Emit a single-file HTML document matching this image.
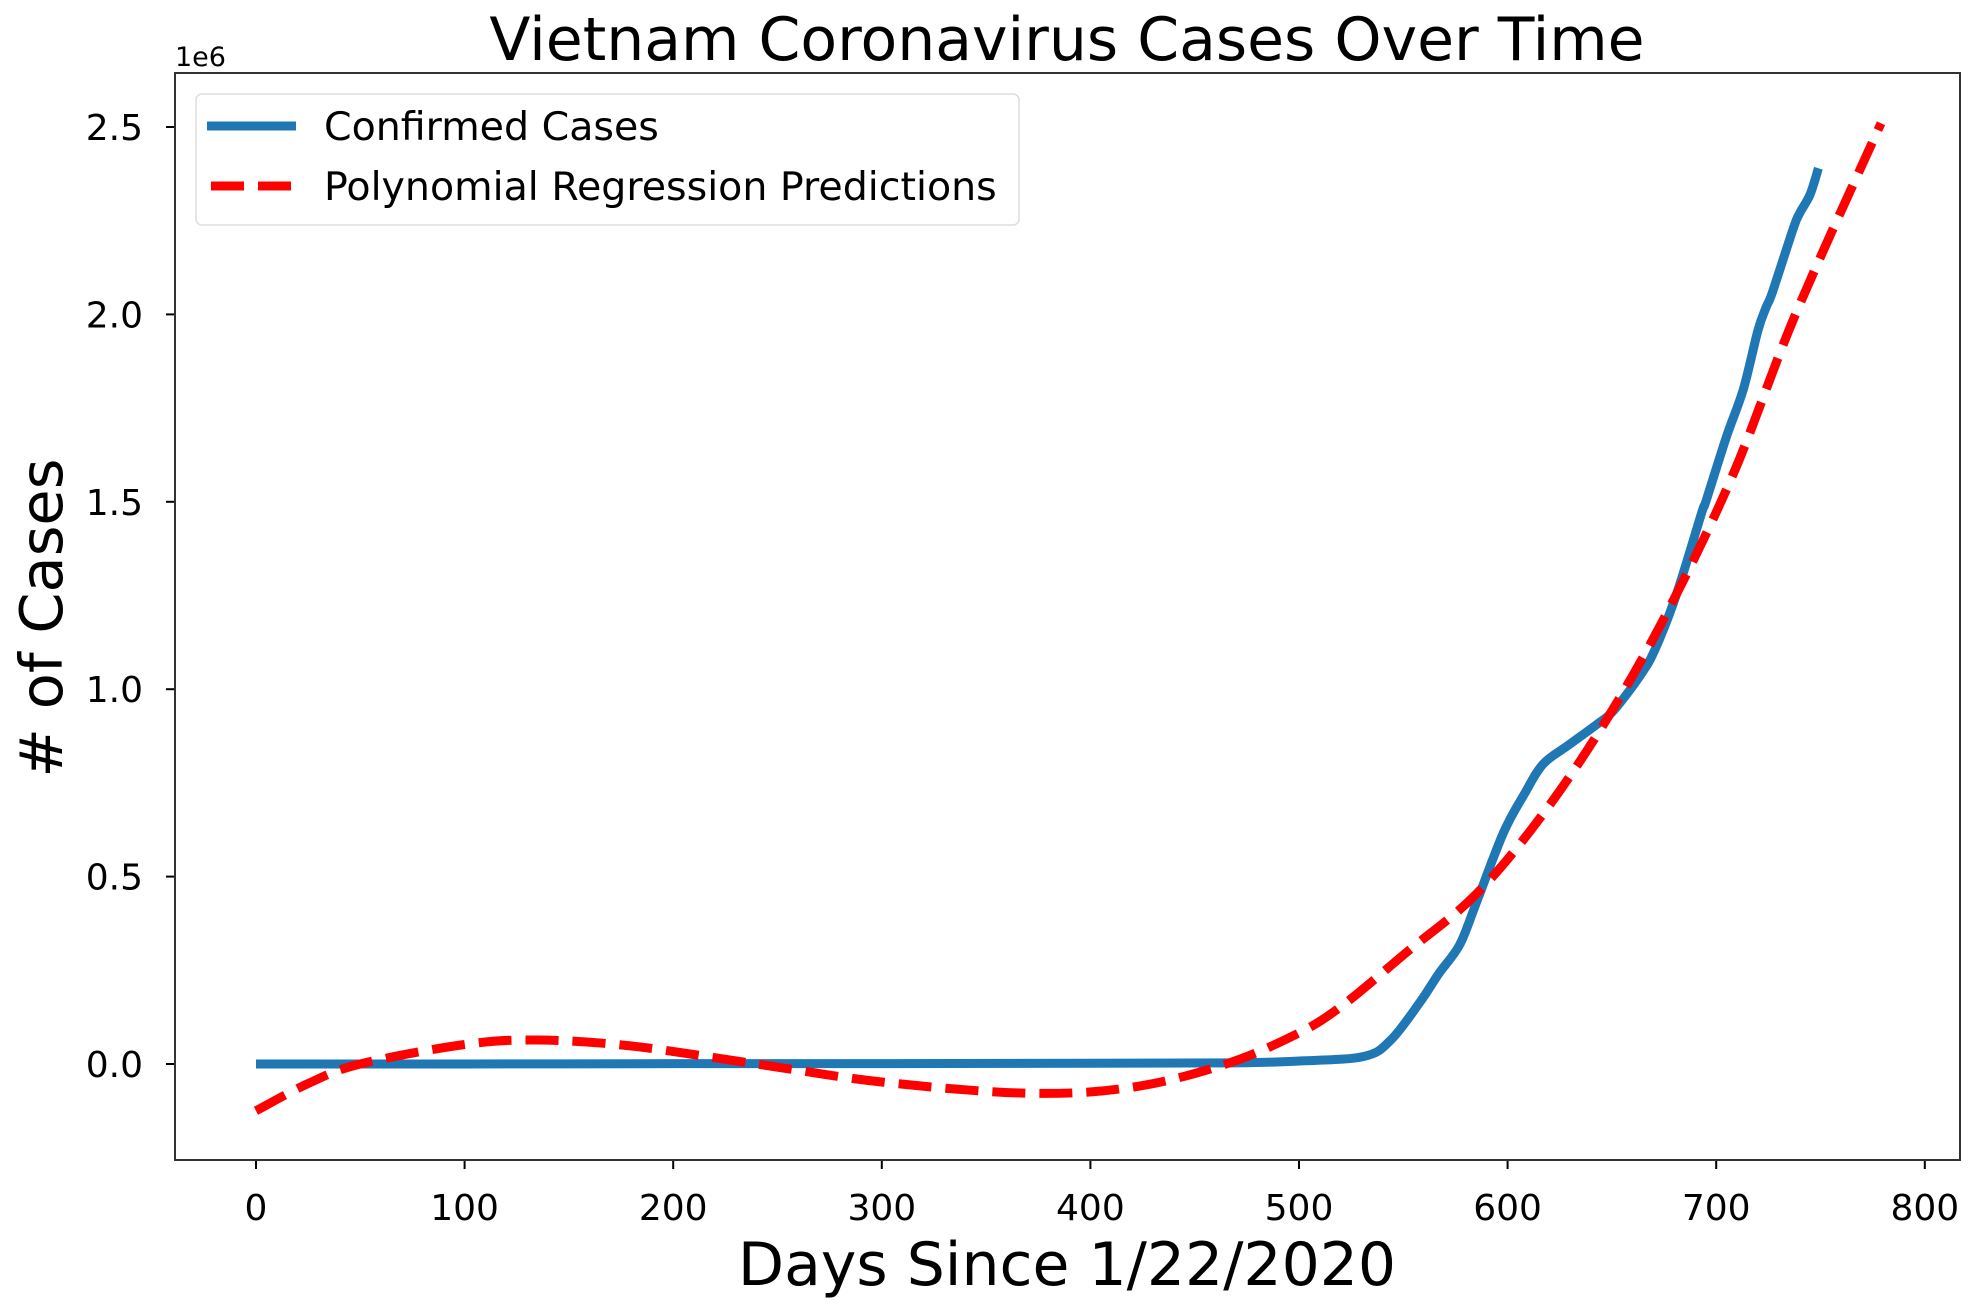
<!DOCTYPE html>
<html><head><meta charset="utf-8"><style>
html,body{margin:0;padding:0;background:#fff;}
svg{display:block;font-family:"DejaVu Sans","Liberation Sans",sans-serif;}
</style></head><body>
<svg id="chart" width="1977" height="1311" viewBox="0 0 1977 1311" xmlns="http://www.w3.org/2000/svg">
<text x="1067" y="60" font-size="60" text-anchor="middle" fill="#000">Vietnam Coronavirus Cases Over Time</text>
<text x="175" y="66" font-size="27" fill="#000">1e6</text>
<text x="1067" y="1285" font-size="60" text-anchor="middle" fill="#000">Days Since 1/22/2020</text>
<text x="0" y="0" font-size="59" text-anchor="middle" fill="#000" transform="translate(62,618) rotate(-90)"># of Cases</text>
<g id="ticks"></g>
<g id="series"></g>
<rect x="175" y="73" width="1785" height="1087" fill="none" stroke="#333" stroke-width="2"/>
<g>
<rect x="196" y="94" width="823" height="131" rx="6" fill="#fff" fill-opacity="0.8" stroke="#ddd" stroke-width="1.5"/>
<line x1="207" y1="126" x2="296" y2="126" stroke="#1f77b4" stroke-width="9"/>
<text x="324" y="140" font-size="39.5" fill="#000">Confirmed Cases</text>
<line x1="211" y1="186" x2="296" y2="186" stroke="#ff0000" stroke-width="9" stroke-dasharray="33,14"/>
<text x="324" y="200" font-size="39.5" fill="#000">Polynomial Regression Predictions</text>
</g>
</svg>
<script>
const xTicks = [0,100,200,300,400,500,600,700,800];
const yTicks = [0,0.5,1.0,1.5,2.0,2.5];
const yTickLabels = ["0.0","0.5","1.0","1.5","2.0","2.5"];
const confirmedDays = [0,100,200,300,400,470,500,531,544,558,567,577,585,598,608,617,629,643,651,664,671,681,693,695,705,713,720,724,727,737,740,745,749];
const confirmedValues = [0,0,0.001,0.001,0.002,0.003,0.008,0.02,0.064,0.165,0.241,0.318,0.43,0.617,0.72,0.80,0.85,0.907,0.944,1.04,1.11,1.254,1.47,1.50,1.675,1.80,1.957,2.02,2.06,2.23,2.27,2.32,2.39];
const predDays = [0,25,50,100,135,180,240,300,370,420,465,500,521,552,584,614,645,676,708,738,779];
const predValues = [-0.125,-0.052,0,0.052,0.064,0.048,0,-0.048,-0.078,-0.062,0,0.083,0.157,0.30,0.448,0.645,0.897,1.2,1.572,2.0,2.51];

const NS="http://www.w3.org/2000/svg";
const xS = d => 256 + d*2.086;
const yS = v => 1064 - v*374.8;
function smoothPath(xs, ys){
  const p = xs.map((d,i)=>[xS(d), yS(ys[i])]);
  let s = "M"+p[0][0].toFixed(1)+","+p[0][1].toFixed(1);
  for(let i=0;i<p.length-1;i++){
    const p0=p[i-1]||p[i], p1=p[i], p2=p[i+1], p3=p[i+2]||p2;
    const c1=[p1[0]+(p2[0]-p0[0])/6, p1[1]+(p2[1]-p0[1])/6];
    const c2=[p2[0]-(p3[0]-p1[0])/6, p2[1]-(p3[1]-p1[1])/6];
    s+=" C"+c1.join(",")+" "+c2.join(",")+" "+p2.join(",");
  }
  return s;
}
const ticks=document.getElementById('ticks');
xTicks.forEach(t=>{
  const l=document.createElementNS(NS,'line');
  
  
  l.setAttribute('x1',xS(t));l.setAttribute('x2',xS(t));l.setAttribute('y1',1160);l.setAttribute('y2',1169);
  l.setAttribute('stroke','#000');l.setAttribute('stroke-width','2');ticks.appendChild(l);
  const tx=document.createElementNS(NS,'text');
  
  
  tx.setAttribute('x',xS(t));tx.setAttribute('y',1220);tx.setAttribute('font-size','36');tx.setAttribute('text-anchor','middle');
  tx.textContent=String(t);ticks.appendChild(tx);
});
yTicks.forEach((t,i)=>{
  const l=document.createElementNS(NS,'line');
  
  
  l.setAttribute('x1',166);l.setAttribute('x2',175);l.setAttribute('y1',yS(t));l.setAttribute('y2',yS(t));
  l.setAttribute('stroke','#000');l.setAttribute('stroke-width','2');ticks.appendChild(l);
  const tx=document.createElementNS(NS,'text');
  
  
  tx.setAttribute('x',143);tx.setAttribute('y',yS(t)+13);tx.setAttribute('font-size','36');tx.setAttribute('text-anchor','end');
  tx.textContent=yTickLabels[i];ticks.appendChild(tx);
});
const series=document.getElementById('series');
const blue=document.createElementNS(NS,'path');


blue.setAttribute('d',smoothPath(confirmedDays,confirmedValues));
blue.setAttribute('fill','none');blue.setAttribute('stroke','#1f77b4');blue.setAttribute('stroke-width','9');
series.appendChild(blue);
const red=document.createElementNS(NS,'path');


red.setAttribute('d',smoothPath(predDays,predValues));
red.setAttribute('fill','none');red.setAttribute('stroke','#ff0000');red.setAttribute('stroke-width','9');red.setAttribute('stroke-dasharray','33,14');
series.appendChild(red);
</script>
</body></html>
